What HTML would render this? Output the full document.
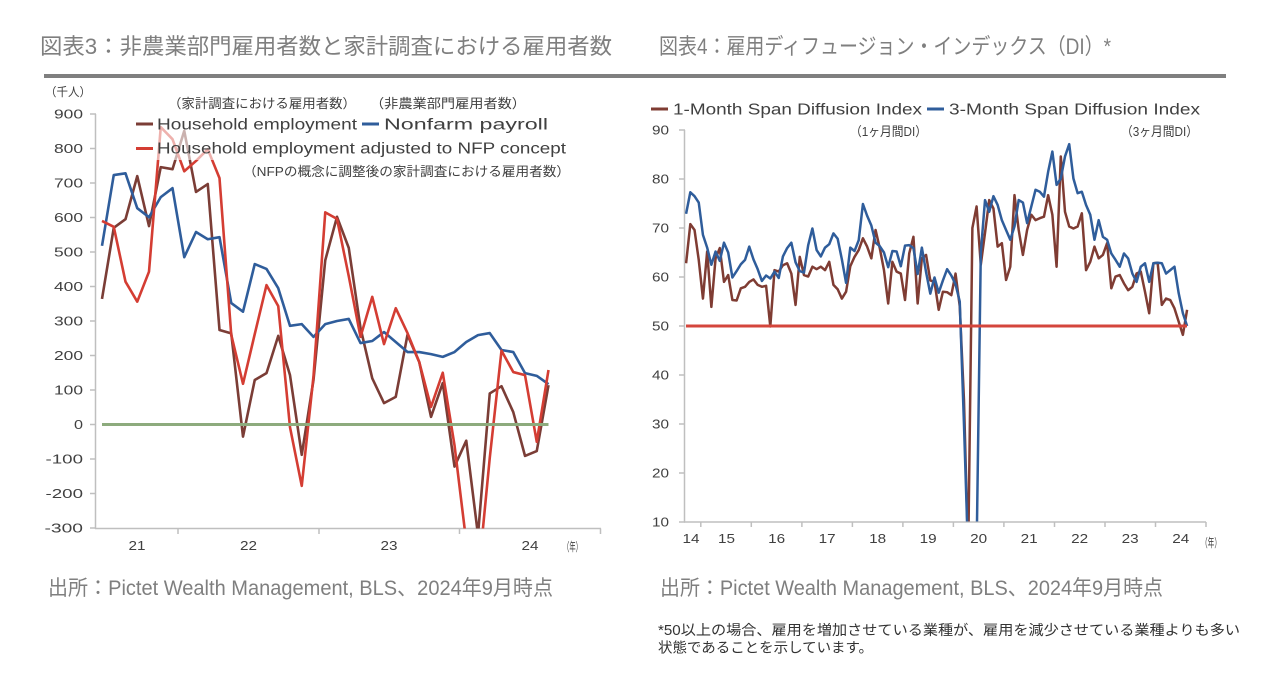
<!DOCTYPE html>
<html><head><meta charset="utf-8"><style>
html,body{margin:0;padding:0;background:#fff;}
svg{display:block;}
text{font-family:"Liberation Sans","Noto Sans CJK JP",sans-serif;}
</style></head><body>
<svg width="1280" height="690" viewBox="0 0 1280 690" xmlns="http://www.w3.org/2000/svg">
<defs>
<clipPath id="cl"><rect x="96" y="100" width="510" height="428.5"/></clipPath>
<clipPath id="cr"><rect x="685" y="100" width="525" height="421.5"/></clipPath>
</defs>
<rect width="1280" height="690" fill="#fff"/>

<!-- Titles -->
<text x="40" y="54" font-size="22" fill="#7f7f7f" textLength="572" lengthAdjust="spacingAndGlyphs">図表3：非農業部門雇用者数と家計調査における雇用者数</text>
<text x="659" y="54" font-size="22" fill="#7f7f7f" textLength="452" lengthAdjust="spacingAndGlyphs">図表4：雇用ディフュージョン・インデックス（DI）*</text>
<rect x="44" y="74" width="1182" height="4" fill="#7f7f7f"/>

<!-- ================= LEFT CHART ================= -->
<text x="45" y="96" font-size="12" fill="#404040" textLength="46" lengthAdjust="spacingAndGlyphs">（千人）</text>

<!-- axes -->
<g stroke="#bfbfbf" stroke-width="1.5" fill="none">
<line x1="95.5" y1="114" x2="95.5" y2="529"/>
<line x1="95" y1="528.5" x2="601" y2="528.5"/>
<path d="M90 114H96M90 148.5H96M90 183H96M90 217.5H96M90 252H96M90 286.5H96M90 321H96M90 355.5H96M90 390H96M90 424.5H96M90 459H96M90 493.5H96M90 528H96"/>
<path d="M178 528.5V534M319 528.5V534M459.5 528.5V534M600.5 528.5V534"/>
</g>

<g font-size="13" fill="#404040" text-anchor="end">
<text x="83" y="118.5" textLength="29" lengthAdjust="spacingAndGlyphs">900</text>
<text x="83" y="153" textLength="29" lengthAdjust="spacingAndGlyphs">800</text>
<text x="83" y="187.5" textLength="29" lengthAdjust="spacingAndGlyphs">700</text>
<text x="83" y="222" textLength="29" lengthAdjust="spacingAndGlyphs">600</text>
<text x="83" y="256.5" textLength="29" lengthAdjust="spacingAndGlyphs">500</text>
<text x="83" y="291" textLength="29" lengthAdjust="spacingAndGlyphs">400</text>
<text x="83" y="325.5" textLength="29" lengthAdjust="spacingAndGlyphs">300</text>
<text x="83" y="360" textLength="29" lengthAdjust="spacingAndGlyphs">200</text>
<text x="83" y="394.5" textLength="29" lengthAdjust="spacingAndGlyphs">100</text>
<text x="83" y="429" textLength="9" lengthAdjust="spacingAndGlyphs">0</text>
<text x="83" y="463.5" textLength="37.5" lengthAdjust="spacingAndGlyphs">-100</text>
<text x="83" y="498" textLength="37.5" lengthAdjust="spacingAndGlyphs">-200</text>
<text x="83" y="532.5" textLength="38.5" lengthAdjust="spacingAndGlyphs">-300</text>
</g>

<g font-size="13" fill="#404040" text-anchor="middle">
<text x="137" y="550" textLength="17" lengthAdjust="spacingAndGlyphs">21</text>
<text x="248.5" y="550" textLength="17" lengthAdjust="spacingAndGlyphs">22</text>
<text x="389" y="550" textLength="17" lengthAdjust="spacingAndGlyphs">23</text>
<text x="530" y="550" textLength="17" lengthAdjust="spacingAndGlyphs">24</text>
</g>
<text x="563" y="551" font-size="12" fill="#404040" textLength="19" lengthAdjust="spacingAndGlyphs">（年）</text>

<!-- series -->
<g clip-path="url(#cl)">
<g transform="translate(102,424.5) scale(11.75,-0.345)" fill="none" stroke-width="2.6" stroke-linejoin="round">
<polyline vector-effect="non-scaling-stroke" stroke="#7b3d36" points="0,364 1,570 2,595 3,720 4,575 5,746 6,740 7,851 8,674 9,697 10,274 11,264 12,-35 13,129 14,149 15,257 16,143 17,-88 18,129 19,476 20,602 21,512 22,280 23,134 24,62 25,80 26,260 27,181 28,22 29,120 30,-122 31,-47 32,-320 33,90 34,111 35,36 36,-91 37,-77 38,114"/>
<polyline vector-effect="non-scaling-stroke" stroke="#2f5d9b" points="0,518 1,723 2,728 3,627 4,601 5,659 6,685 7,485 8,558 9,537 10,543 11,352 12,327 13,465 14,451 15,395 16,286 17,291 18,254 19,291 20,300 21,306 22,236 23,242 24,268 25,239 26,210 27,210 28,204 29,196 30,210 31,239 32,259 33,265 34,216 35,210 36,149 37,141 38,117"/>
<polyline vector-effect="non-scaling-stroke" stroke="#d43d33" points="0,590 1,573 2,414 3,356 4,443 5,862 6,827 7,734 8,764 9,798 10,714 11,260 12,118 13,262 14,404 15,343 16,-8 17,-178 18,140 19,615 20,596 21,430 22,254 23,370 24,233 25,337 26,265 27,181 28,51 29,150 30,-60 31,-340 32,-450 33,-97 34,214 35,152 36,143 37,-50 38,158"/>
</g>
</g>
<line x1="102" y1="424.5" x2="548.5" y2="424.5" stroke="#8dab7d" stroke-width="3"/>

<!-- legend overlay -->
<rect x="132" y="113" width="440" height="47" fill="#fff" fill-opacity="0.6"/>
<text x="168" y="108" font-size="13" fill="#404040" textLength="188" lengthAdjust="spacingAndGlyphs">（家計調査における雇用者数）</text>
<text x="370" y="108" font-size="13" fill="#404040" textLength="156" lengthAdjust="spacingAndGlyphs">（非農業部門雇用者数）</text>
<line x1="136" y1="124" x2="153" y2="124" stroke="#7b3d36" stroke-width="3"/>
<text x="157" y="129.5" font-size="15.5" fill="#404040" textLength="200" lengthAdjust="spacingAndGlyphs">Household employment</text>
<line x1="362" y1="124" x2="379" y2="124" stroke="#2f5d9b" stroke-width="3"/>
<text x="384" y="129.5" font-size="15.5" fill="#404040" textLength="164" lengthAdjust="spacingAndGlyphs">Nonfarm payroll</text>
<line x1="136" y1="148.5" x2="153" y2="148.5" stroke="#d43d33" stroke-width="3"/>
<text x="157" y="153.5" font-size="15.5" fill="#404040" textLength="409" lengthAdjust="spacingAndGlyphs">Household employment adjusted to NFP concept</text>
<text x="243" y="176" font-size="13" fill="#404040" textLength="327" lengthAdjust="spacingAndGlyphs">（NFPの概念に調整後の家計調査における雇用者数）</text>

<!-- ================= RIGHT CHART ================= -->
<line x1="651" y1="109" x2="668" y2="109" stroke="#7f3c33" stroke-width="3"/>
<text x="673" y="114.5" font-size="15.5" fill="#404040" textLength="249" lengthAdjust="spacingAndGlyphs">1-Month Span Diffusion Index</text>
<line x1="927" y1="109" x2="944" y2="109" stroke="#2f5d9b" stroke-width="3"/>
<text x="949" y="114.5" font-size="15.5" fill="#404040" textLength="251" lengthAdjust="spacingAndGlyphs">3-Month Span Diffusion Index</text>
<text x="850" y="136" font-size="13" fill="#404040" textLength="77" lengthAdjust="spacingAndGlyphs">（1ヶ月間DI）</text>
<text x="1121" y="136" font-size="13" fill="#404040" textLength="77" lengthAdjust="spacingAndGlyphs">（3ヶ月間DI）</text>

<g stroke="#bfbfbf" stroke-width="1.5" fill="none">
<line x1="684.5" y1="130" x2="684.5" y2="522.5"/>
<line x1="684" y1="522" x2="1206" y2="522"/>
<path d="M679 130H685M679 179H685M679 228H685M679 277H685M679 326H685M679 375H685M679 424H685M679 473H685M679 522H685"/>
<path d="M700.8 522V527M751.3 522V527M801.9 522V527M852.4 522V527M902.9 522V527M953.4 522V527M1003.9 522V527M1054.5 522V527M1105 522V527M1155.5 522V527M1206 522V527"/>
</g>

<g font-size="13" fill="#404040" text-anchor="end">
<text x="669" y="134.5" textLength="17" lengthAdjust="spacingAndGlyphs">90</text>
<text x="669" y="183.5" textLength="17" lengthAdjust="spacingAndGlyphs">80</text>
<text x="669" y="232.5" textLength="17" lengthAdjust="spacingAndGlyphs">70</text>
<text x="669" y="281.5" textLength="17" lengthAdjust="spacingAndGlyphs">60</text>
<text x="669" y="330.5" textLength="17" lengthAdjust="spacingAndGlyphs">50</text>
<text x="669" y="379.5" textLength="17" lengthAdjust="spacingAndGlyphs">40</text>
<text x="669" y="428.5" textLength="17" lengthAdjust="spacingAndGlyphs">30</text>
<text x="669" y="477.5" textLength="17" lengthAdjust="spacingAndGlyphs">20</text>
<text x="669" y="526.5" textLength="17" lengthAdjust="spacingAndGlyphs">10</text>
</g>

<g font-size="13" fill="#404040" text-anchor="middle">
<text x="691" y="543" textLength="17" lengthAdjust="spacingAndGlyphs">14</text>
<text x="726.5" y="543" textLength="17" lengthAdjust="spacingAndGlyphs">15</text>
<text x="776.6" y="543" textLength="17" lengthAdjust="spacingAndGlyphs">16</text>
<text x="827.1" y="543" textLength="17" lengthAdjust="spacingAndGlyphs">17</text>
<text x="877.6" y="543" textLength="17" lengthAdjust="spacingAndGlyphs">18</text>
<text x="928.1" y="543" textLength="17" lengthAdjust="spacingAndGlyphs">19</text>
<text x="978.7" y="543" textLength="17" lengthAdjust="spacingAndGlyphs">20</text>
<text x="1029.2" y="543" textLength="17" lengthAdjust="spacingAndGlyphs">21</text>
<text x="1079.7" y="543" textLength="17" lengthAdjust="spacingAndGlyphs">22</text>
<text x="1130.2" y="543" textLength="17" lengthAdjust="spacingAndGlyphs">23</text>
<text x="1180.8" y="543" textLength="17" lengthAdjust="spacingAndGlyphs">24</text>
</g>
<text x="1201" y="547" font-size="12" fill="#404040" textLength="20" lengthAdjust="spacingAndGlyphs">（年）</text>

<g clip-path="url(#cr)">
<g transform="translate(686.1,571) scale(4.21,-4.9)" fill="none" stroke-width="2.5" stroke-linejoin="round">
<polyline vector-effect="non-scaling-stroke" stroke="#7f3c33" points="0,62.8 1,70.8 2,69.6 3,63.5 4,55.6 5,65.2 6,53.9 7,63.8 8,65.9 9,59 10,60.4 11,55.3 12,55.2 13,57.7 14,58 15,59 16,59.5 17,58.4 18,58 19,58.2 20,49.9 21,61.4 22,61.1 23,62.4 24,62.8 25,60.7 26,54.3 27,64.1 28,60.4 29,60.1 30,62.1 31,61.6 32,62.1 33,61.4 34,63.1 35,58.4 36,57.5 37,55.6 38,57 39,62.2 40,64.1 41,65.5 42,67.9 43,66.2 44,63.8 45,69.6 46,65.9 47,61.4 48,54.6 49,63.1 50,61.1 51,60.7 52,55.3 53,64.8 54,68.2 55,54.6 56,63.8 57,64.5 58,59.3 59,59 60,53.3 61,57 62,56.9 63,56.3 64,60.7 65,54 66,35 67,3 68,70 69,74.4 70,62.5 71,69 72,75.7 73,74 74,66.2 75,66.9 76,59.4 77,62.1 78,76.7 79,69.6 80,64.5 81,69.6 82,72.7 83,71.6 84,72 85,72.3 86,76.7 87,72.7 88,62.1 89,84.6 90,73.3 91,70.3 92,69.9 93,70.3 94,73 95,61.4 96,63.1 97,66.2 98,63.8 99,64.5 100,66.9 101,57.7 102,60.1 103,60.4 104,58.7 105,57.3 106,58 107,60.7 108,61.1 109,57 110,52.6 111,62.8 112,62.9 113,54.3 114,55.6 115,55.3 116,53.6 117,50.9 118,48.2 119,53.3"/>
<polyline vector-effect="non-scaling-stroke" stroke="#2f5d9b" points="0,72.9 1,77.3 2,76.5 3,75.2 4,68.6 5,66 6,62.5 7,65.2 8,63.3 9,67 10,65 11,59.9 12,61.2 13,62.6 14,63.5 15,66.2 16,63.6 17,61.6 18,59.2 19,60.3 20,59.7 21,61.1 22,59.8 23,64.2 24,65.9 25,67 26,63 27,61.2 28,60.9 29,66.5 30,69.9 31,65.5 32,64.2 33,66 34,66.7 35,68.9 36,67.8 37,63.6 38,58.8 39,66 40,65.3 41,67.5 42,74.9 43,72.5 44,70.5 45,67 46,66.3 47,65 48,62 49,65.3 50,65.2 51,62.2 52,66.4 53,66.5 54,65.9 55,60.6 56,66 57,61 58,56.6 59,59.9 60,56.8 61,59.3 62,61.6 63,60.3 64,58.5 65,55 66,30 67,3 68,3 69,4 70,65 71,75.7 72,73.3 73,76.5 74,74.7 75,71.6 76,69.6 77,67.6 78,70.3 79,75.7 80,75.2 81,71 82,74.4 83,77.8 84,77.4 85,76.4 86,81.5 87,85.6 88,78.8 89,80.1 90,84.6 91,87.1 92,80.1 93,77.1 94,77.4 95,74.7 96,72.7 97,67.6 98,71.6 99,68.2 100,67.6 101,64.8 102,63.5 103,62.1 104,64.8 105,63.8 106,60.7 107,59 108,62.1 109,62.8 110,59 111,62.8 112,62.9 113,62.8 114,60.7 115,61.4 116,62.1 117,56.7 118,52.6 119,50"/>
</g>
</g>
<line x1="686" y1="326" x2="1187" y2="326" stroke="#d4463c" stroke-width="3"/>

<!-- ================= BOTTOM TEXT ================= -->
<text x="48" y="595" font-size="21" fill="#7f7f7f" textLength="505" lengthAdjust="spacingAndGlyphs">出所：Pictet Wealth Management, BLS、2024年9月時点</text>
<text x="660" y="595" font-size="21" fill="#7f7f7f" textLength="503" lengthAdjust="spacingAndGlyphs">出所：Pictet Wealth Management, BLS、2024年9月時点</text>
<text x="658" y="635" font-size="14.3" fill="#333" textLength="582" lengthAdjust="spacingAndGlyphs">*50以上の場合、雇用を増加させている業種が、雇用を減少させている業種よりも多い</text>
<text x="658" y="652.5" font-size="14.3" fill="#333" textLength="215" lengthAdjust="spacingAndGlyphs">状態であることを示しています。</text>
</svg>
</body></html>
